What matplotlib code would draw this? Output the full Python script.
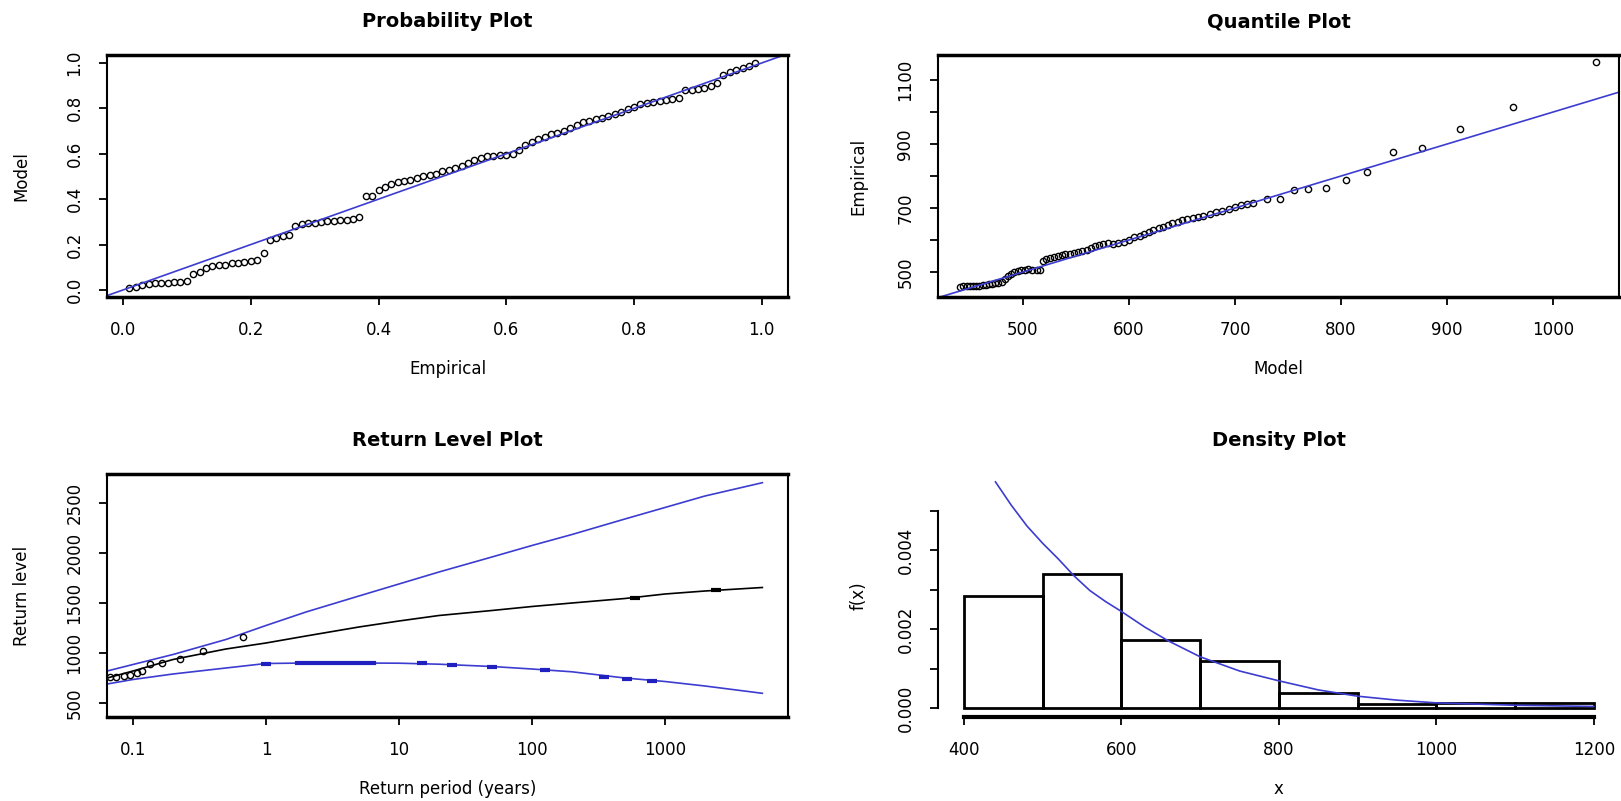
import numpy as np
import matplotlib
matplotlib.use("Agg")
import matplotlib.pyplot as plt

# probability plot (empirical vs model probabilities)
prob_emp = [0.01, 0.02, 0.03, 0.04, 0.05, 0.06, 0.07, 0.08, 0.09, 0.10,
            0.11, 0.12, 0.13, 0.14, 0.15, 0.16, 0.17, 0.18, 0.19, 0.20,
            0.21, 0.22, 0.23, 0.24, 0.25, 0.26, 0.27, 0.28, 0.29, 0.30,
            0.31, 0.32, 0.33, 0.34, 0.35, 0.36, 0.37, 0.38, 0.39, 0.40,
            0.41, 0.42, 0.43, 0.44, 0.45, 0.46, 0.47, 0.48, 0.49, 0.50,
            0.51, 0.52, 0.53, 0.54, 0.55, 0.56, 0.57, 0.58, 0.59, 0.60,
            0.61, 0.62, 0.63, 0.64, 0.65, 0.66, 0.67, 0.68, 0.69, 0.70,
            0.71, 0.72, 0.73, 0.74, 0.75, 0.76, 0.77, 0.78, 0.79, 0.80,
            0.81, 0.82, 0.83, 0.84, 0.85, 0.86, 0.87, 0.88, 0.89, 0.90,
            0.91, 0.92, 0.93, 0.94, 0.95, 0.96, 0.97, 0.98, 0.99]
prob_model = [0.008, 0.015, 0.022, 0.027, 0.030, 0.030, 0.032, 0.034, 0.035, 0.040,
              0.072, 0.080, 0.095, 0.105, 0.108, 0.112, 0.118, 0.120, 0.123, 0.128,
              0.132, 0.162, 0.218, 0.228, 0.236, 0.242, 0.283, 0.292, 0.296, 0.296,
              0.298, 0.302, 0.304, 0.307, 0.310, 0.314, 0.322, 0.413, 0.415, 0.440,
              0.452, 0.468, 0.476, 0.480, 0.485, 0.492, 0.500, 0.506, 0.512, 0.522,
              0.530, 0.537, 0.548, 0.560, 0.572, 0.580, 0.588, 0.592, 0.593, 0.595,
              0.600, 0.616, 0.640, 0.652, 0.664, 0.675, 0.685, 0.692, 0.702, 0.712,
              0.728, 0.738, 0.745, 0.752, 0.758, 0.766, 0.776, 0.785, 0.796, 0.808,
              0.818, 0.824, 0.828, 0.832, 0.836, 0.840, 0.846, 0.880, 0.882, 0.884,
              0.888, 0.900, 0.912, 0.945, 0.958, 0.968, 0.976, 0.988, 0.998]

# quantile plot (model vs empirical quantiles)
quant_model = [441, 444, 447, 450, 453, 456, 459, 462, 465, 468, 471, 474, 477, 480,
               483, 486, 489, 492, 495,
               498, 502, 505, 509, 513, 516,
               519, 522, 526, 529, 533, 537, 540, 544, 548, 552, 556, 560, 564, 568, 572,
               576, 580, 585, 590, 595, 600,
               605, 610, 614, 619, 623, 628, 632, 637, 641, 646, 650, 655, 660, 665,
               670, 676, 682, 688, 694, 700, 706, 711,
               717, 730, 742, 756, 769, 786, 805, 824, 849, 876, 912, 962, 1040]
quant_emp = [452, 455, 456, 455, 455, 456, 457, 459, 461, 463, 464, 465, 466, 468,
             478, 488, 495, 500, 503,
             505, 507, 508, 507, 506, 507,
             533, 540, 545, 548, 551, 553, 555, 557, 560, 563, 566, 570, 574, 580, 584,
             588, 590, 589, 590, 594, 600,
             608, 614, 620, 625, 630, 636, 642, 647, 652, 657, 661, 666, 670, 672,
             676, 680, 686, 690, 696, 702, 708, 712,
             717, 727, 727, 756, 759, 763, 789, 811, 875, 888, 948, 1016, 1157]

# return level plot
rl_period = [0.064, 0.1, 0.2, 0.5, 1, 2, 5, 10, 20, 50, 100, 200, 500, 1000, 2000, 5400]
rl_level = [750, 820, 935, 1040, 1100, 1170, 1260, 1320, 1375, 1425, 1465, 1500, 1545, 1590, 1620, 1655]
rl_upper = [820, 885, 985, 1135, 1275, 1410, 1570, 1690, 1810, 1960, 2075, 2185, 2340, 2455, 2570, 2703]
rl_lower = [690, 735, 790, 850, 895, 900, 900, 898, 888, 865, 840, 812, 750, 715, 670, 597]
rl_obs_period = [0.067, 0.075, 0.085, 0.095, 0.107, 0.116, 0.134, 0.164, 0.225, 0.339, 0.668]
rl_obs_level = [757, 763, 770, 780, 797, 823, 887, 897, 940, 1023, 1163]
rl_big_period = [600, 2400]
rl_big_level = [1547, 1630]
rl_low_mark_period = [1.0, 15, 25, 50, 125, 350, 520, 800]
rl_low_mark_level = [895, 896, 885, 865, 835, 765, 740, 720]
rl_low_seg_period = [1.7, 3.0, 4.5, 6.5]
rl_low_seg_level = [900, 900, 900, 900]

# density plot
hist_edges = [400, 500, 600, 700, 800, 900, 1000, 1100, 1200]
hist_dens = [0.00285, 0.00339, 0.00173, 0.00120, 0.00039, 0.00011, 0.00013, 0.00013]
dens_x = [440, 460, 480, 500, 520, 540, 560, 580, 600, 630, 660, 700, 750, 800,
          850, 900, 950, 1000, 1100, 1200]
dens_y = [0.00574, 0.00515, 0.00462, 0.00418, 0.00378, 0.00335, 0.00298, 0.00270,
          0.00245, 0.00205, 0.00170, 0.00130, 0.00094, 0.00069, 0.00046, 0.00030,
          0.00020, 0.00013, 0.00007, 0.00004]

blue = '#3c3cd0'
plt.rcParams['font.size'] = 12

W, H = 1621.0, 801.0
fig = plt.figure(figsize=(W / 100, H / 100), dpi=100)


def box(x0, y0, x1, y1):
    return [x0 / W, 1 - y1 / H, (x1 - x0) / W, (y1 - y0) / H]


def style(ax, title, xlabel, ylabel, yl_x):
    ax.set_title(title, fontsize=14, fontweight='bold', pad=20)
    ax.set_xlabel(xlabel)
    ax.set_ylabel(ylabel)
    ax.xaxis.set_label_coords(0.5, -0.26)
    ax.yaxis.set_label_coords(yl_x, 0.5)
    ax.tick_params(direction='out', length=6, width=1.3, color='black')
    ax.tick_params(axis='x', pad=11)
    ax.tick_params(axis='y', pad=11, labelrotation=90)
    for lab in ax.get_yticklabels():
        lab.set_va('center')
    for side in ['left', 'right']:
        ax.spines[side].set_linewidth(1.5)
    for side in ['top', 'bottom']:
        ax.spines[side].set_linewidth(2.5)


# Probability Plot
ax1 = fig.add_axes(box(107, 55, 788, 297))
ax1.plot(prob_emp, prob_model, 'o', mfc='none', mec='black', ms=4.5, mew=1.0)
ax1.axline((0, 0), (1, 1), color=blue, lw=1.2)
ax1.set_xlim(-0.025, 1.041)
ax1.set_ylim(-0.031, 1.035)
ax1.set_xticks([0, 0.2, 0.4, 0.6, 0.8, 1.0])
ax1.set_xticklabels(['0.0', '0.2', '0.4', '0.6', '0.8', '1.0'])
ax1.set_yticks([0, 0.2, 0.4, 0.6, 0.8, 1.0])
ax1.set_yticklabels(['0.0', '0.2', '0.4', '0.6', '0.8', '1.0'])
style(ax1, 'Probability Plot', 'Empirical', 'Model', -0.112)

# Quantile Plot
ax2 = fig.add_axes(box(938, 55, 1619, 297))
ax2.plot(quant_model, quant_emp, 'o', mfc='none', mec='black', ms=4.5, mew=1.0)
ax2.axline((500, 500), (1000, 1000), color=blue, lw=1.2)
ax2.set_xlim(420, 1062)
ax2.set_ylim(422, 1178)
ax2.set_xticks([500, 600, 700, 800, 900, 1000])
ax2.set_yticks([500, 600, 700, 800, 900, 1000, 1100])
ax2.set_yticklabels(['500', '', '700', '', '900', '', '1100'])
style(ax2, 'Quantile Plot', 'Model', 'Empirical', -0.104)

# Return Level Plot
ax3 = fig.add_axes(box(107, 474, 788, 717))
ax3.set_xscale('log')
ax3.plot(rl_period, rl_upper, color=blue, lw=1.2)
ax3.plot(rl_period, rl_lower, color=blue, lw=1.2)
ax3.plot(rl_period, rl_level, color='black', lw=1.2)
ax3.plot(rl_low_seg_period, rl_low_seg_level, color='#2020c0', lw=3)
ax3.plot(rl_low_mark_period, rl_low_mark_level, '_', color='#2020c0', ms=7, mew=3)
ax3.plot(rl_big_period, rl_big_level, '_', color='black', ms=7, mew=3)
ax3.plot(rl_obs_period, rl_obs_level, 'o', mfc='none', mec='black', ms=4.5, mew=1.0)
ax3.set_xlim(0.0638, 8420)
ax3.set_ylim(360, 2790)
ax3.set_xticks([0.1, 1, 10, 100, 1000])
ax3.set_xticklabels(['0.1', '1', '10', '100', '1000'])
ax3.minorticks_off()
ax3.set_yticks([500, 1000, 1500, 2000, 2500])
style(ax3, 'Return Level Plot', 'Return period (years)', 'Return level', -0.112)

# Density Plot
ax4 = fig.add_axes(box(938, 474, 1619, 717))
ax4.bar(hist_edges[:-1], hist_dens, width=np.diff(hist_edges), align='edge',
        fill=False, edgecolor='black', lw=2)
ax4.plot(dens_x, dens_y, color=blue, lw=1.2)
ax4.set_xlim(367, 1232)
ax4.set_ylim(-0.000228, 0.00594)
ax4.set_xticks([400, 600, 800, 1000, 1200])
ax4.set_yticks([0, 0.001, 0.002, 0.003, 0.004, 0.005])
ax4.set_yticklabels(['0.000', '', '0.002', '', '0.004', ''])
style(ax4, 'Density Plot', 'x', 'f(x)', -0.104)
ax4.spines['top'].set_visible(False)
ax4.spines['right'].set_visible(False)
ax4.spines['bottom'].set_bounds(400, 1200)
ax4.spines['left'].set_bounds(0, 0.005)
ax4.spines['bottom'].set_linewidth(3)

fig.savefig('out.png', dpi=100)
